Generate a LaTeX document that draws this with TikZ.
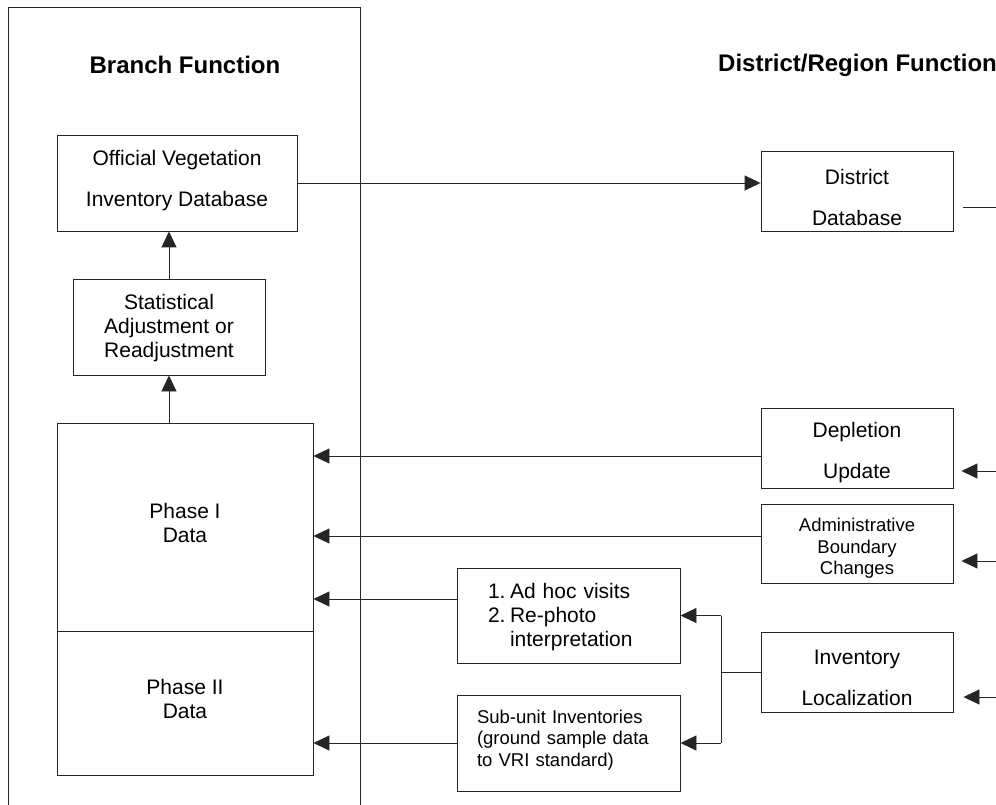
\documentclass[tikz,border=0pt]{standalone}
\usepackage{fontspec}
\setmainfont{Liberation Sans}
\usetikzlibrary{arrows.meta}
\tikzset{
  box/.style={draw=black!85, line width=0.9pt, inner sep=0pt},
  lbl/.style={inner sep=0pt, align=center, font={\fontsize{21}{41}\selectfont}},
  tri/.style={font={\fontsize{21}{24}\selectfont}},
  small/.style={font={\fontsize{18.5}{21.5}\selectfont}},
  conn/.style={draw=black!85, line width=0.9pt},
  arr/.style={conn, -{Triangle[length=16pt, width=15pt]}},
  title/.style={font={\fontsize{24}{28}\selectfont\bfseries}, inner sep=0pt}
}
\begin{document}
\begin{tikzpicture}[x=1pt, y=-1pt]
\path[use as bounding box] (0,0) rectangle (996,805);
\clip (0,0) rectangle (996,805);
\fill[white] (0,0) rectangle (996,805);

% outer frame of Branch
\draw[conn] (8,830) -- (8,7) -- (360,7) -- (360,830);

\node[title] (bt) at (185,65) {Branch Function};
\node[title, anchor=west] (dt) at (718,65) {District/Region Function};

% boxes
\node[box, minimum width=240, minimum height=96] (ovid) at (177,183) {};
\node[box, minimum width=192, minimum height=96] (stat) at (169,327) {};
\node[box, minimum width=256, minimum height=208] (p1) at (185,527) {};
\node[box, minimum width=256, minimum height=144] (p2) at (185,703) {};
\node[box, minimum width=192, minimum height=80] (dd) at (857,191) {};
\node[box, minimum width=192, minimum height=80] (depl) at (857,448) {};
\node[box, minimum width=192, minimum height=79] (adm) at (857,543.5) {};
\node[box, minimum width=192, minimum height=80] (inv) at (857,672) {};
\node[box, minimum width=223, minimum height=95] (adhoc) at (568.5,615.5) {};
\node[box, minimum width=223, minimum height=96] (sub) at (568.5,743) {};

% texts
\node[lbl] (ovidt) at (177,181) {Official Vegetation\\Inventory Database};
\node[lbl, tri] (statt) at (169,328.5) {Statistical\\Adjustment or\\Readjustment};
\node[lbl, tri] (p1t) at (185,522.5) {Phase I\\Data};
\node[lbl, tri] (p2t) at (185,698.5) {Phase II\\Data};
\node[lbl] (ddt) at (857,197) {District\\Database};
\node[lbl] (deplt) at (857,453) {Depletion\\Update};
\node[lbl, small] (admt) at (857,548.5) {Administrative\\Boundary\\Changes};
\node[lbl] (invt) at (857,677.5) {Inventory\\Localization};
\node[lbl, tri, text width=161, align=left] (adhoct) at (568.5,617.5)
  {\begin{tabular}{@{}l@{\hspace{4.5pt}}l@{}}1.&Ad hoc visits\\2.&Re-photo\\&interpretation\end{tabular}};
\node[lbl, small, text width=183, align=left] (subt) at (568.5,740)
  {Sub-unit Inventories\\(ground sample data\\to VRI standard)};

% Branch internal arrows
\draw[arr] (stat.north) -- (stat.north |- ovid.south);
\draw[arr] (p1.north -| stat.south) -- (stat.south);

% Branch to District
\draw[arr] (ovid.east) -- (ovid.east -| dd.west);
\coordinate (ddout) at (1000,207);
\draw[conn] ([xshift=10pt]dd.east |- ddout) -- (ddout);

% District to Phase data
\draw[arr] ([yshift=-8pt]depl.west) -- ([yshift=-8pt]depl.west -| p1.east);
\draw[arr] ([yshift=7.5pt]adm.west) -- ([yshift=7.5pt]adm.west -| p1.east);
\draw[arr] ([yshift=16.5pt]adhoc.west) -- ([yshift=16.5pt]adhoc.west -| p1.east);
\draw[arr] (sub.west) -- (sub.west -| p2.east);

% incoming from right edge
\coordinate (in1) at (1000,471);
\coordinate (in2) at (1000,561);
\coordinate (in3) at (1000,697);
\draw[arr] (in1) -- ([xshift=8pt]depl.east |- in1);
\draw[arr] (in2) -- ([xshift=8pt]adm.east |- in2);
\draw[arr] (in3) -- ([xshift=10pt]inv.east |- in3);

% Inventory localization split
\coordinate (j) at (721,672);
\draw[conn] (inv.west) -- (j);
\draw[conn] (j |- adhoc.east) -- (j |- sub.east);
\draw[arr] (j |- adhoc.east) -- (adhoc.east);
\draw[arr] (j |- sub.east) -- (sub.east);
\end{tikzpicture}
\end{document}
